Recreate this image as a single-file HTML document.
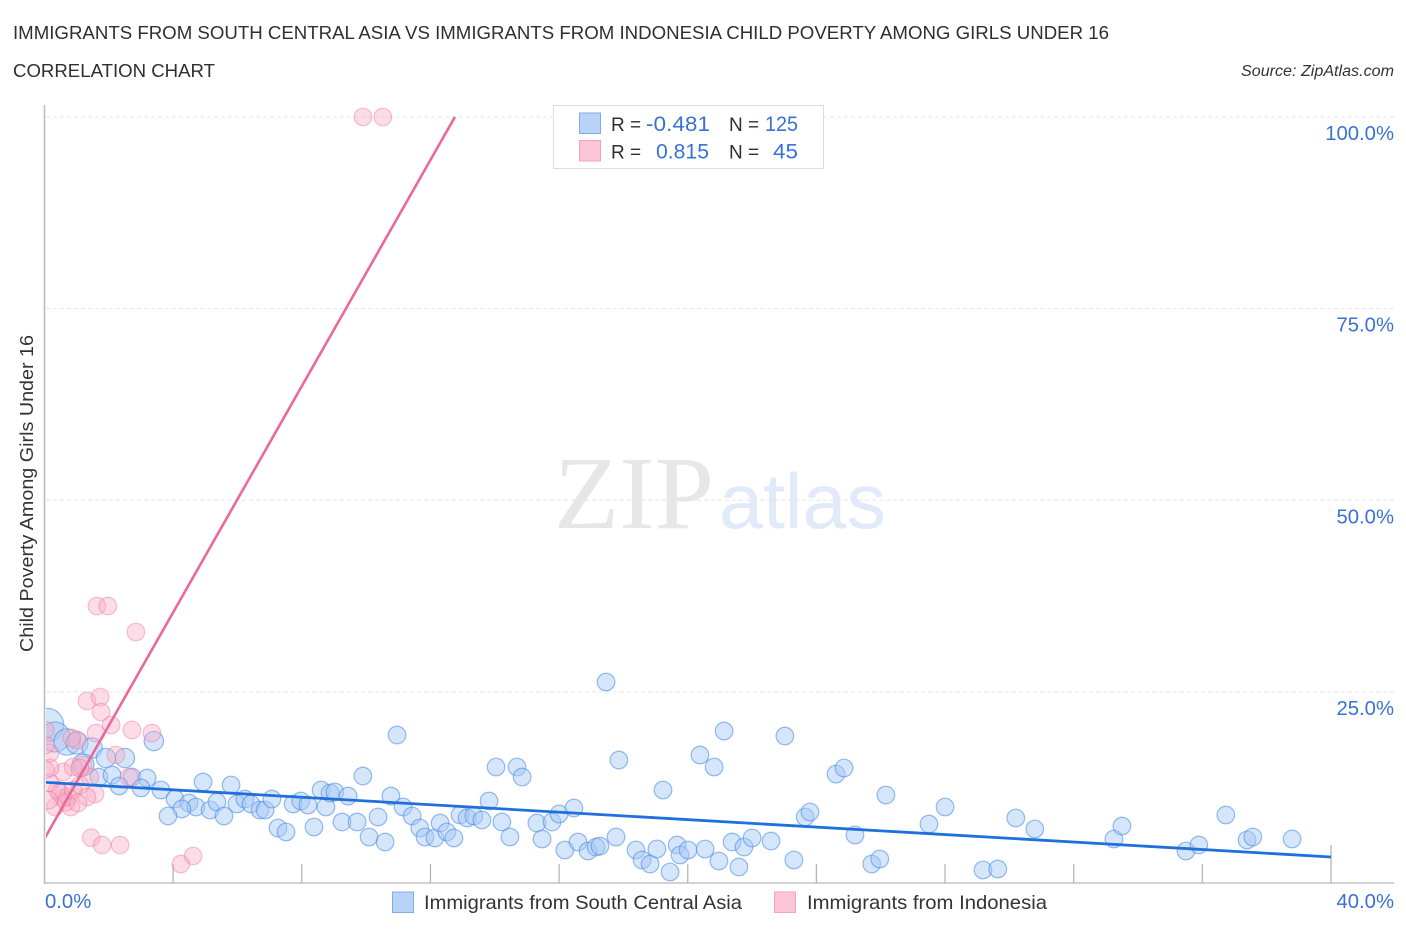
<!DOCTYPE html>
<html lang="en">
<head>
<meta charset="utf-8">
<title>Immigrants from South Central Asia vs Immigrants from Indonesia Child Poverty Among Girls Under 16</title>
<style>
html,body{margin:0;padding:0;background:#fff;}
body{width:1406px;height:930px;overflow:hidden;font-family:"Liberation Sans",sans-serif;}
svg{display:block;}
text{font-family:"Liberation Sans",sans-serif;}
</style>
</head>
<body>
<svg id="chart" xmlns="http://www.w3.org/2000/svg" width="1406" height="930" viewBox="0 0 1406 930">
  <defs><clipPath id="plot-clip"><rect x="46" y="100" width="1350" height="783"/></clipPath></defs>
  <text x="13" y="39" font-size="18.5" fill="#2f2f2f" textLength="1096" lengthAdjust="spacingAndGlyphs">IMMIGRANTS FROM SOUTH CENTRAL ASIA VS IMMIGRANTS FROM INDONESIA CHILD POVERTY AMONG GIRLS UNDER 16</text>
  <text x="13" y="77" font-size="18.5" fill="#2f2f2f" textLength="202" lengthAdjust="spacingAndGlyphs">CORRELATION CHART</text>
  <text x="1241" y="76" font-size="15.5" font-style="italic" fill="#333" textLength="153" lengthAdjust="spacingAndGlyphs">Source: ZipAtlas.com</text>

  <g>
    <text x="554" y="528" font-size="104" fill="#e7e7e7" textLength="160" lengthAdjust="spacingAndGlyphs" style="font-family:'Liberation Serif',serif">ZIP</text>
    <text x="719" y="528" font-size="78" fill="#e0eaf9" textLength="167" lengthAdjust="spacingAndGlyphs" style="font-family:'Liberation Sans',sans-serif">atlas</text>
  </g>

  <g id="grid"></g>
  <g id="axes"></g>
  <g id="marks" clip-path="url(#plot-clip)"></g>
  <g id="labels"></g>

  <text transform="translate(33,652) rotate(-90)" font-size="18" fill="#333" textLength="317" lengthAdjust="spacingAndGlyphs">Child Poverty Among Girls Under 16</text>

  <g>
    <rect x="553.5" y="105.5" width="270" height="63" fill="#fff" stroke="#dcdcdc" stroke-width="1"/>
    <rect x="579.5" y="113" width="21" height="20.5" fill="#b8d3f7" stroke="#7fabe8" stroke-width="1"/>
    <rect x="579.5" y="140.5" width="21" height="20.5" fill="#fcc6d8" stroke="#f2a3bd" stroke-width="1"/>
    <text x="611" y="131" font-size="19" fill="#2f2f2f">R =</text>
    <text x="646" y="131" font-size="21" fill="#3a72d4" textLength="64" lengthAdjust="spacingAndGlyphs">-0.481</text>
    <text x="729" y="131" font-size="19" fill="#2f2f2f">N =</text>
    <text x="765" y="131" font-size="21" fill="#3a72d4" textLength="33" lengthAdjust="spacingAndGlyphs">125</text>
    <text x="611" y="158.5" font-size="19" fill="#2f2f2f">R =</text>
    <text x="656" y="158.5" font-size="21" fill="#3a72d4" textLength="53" lengthAdjust="spacingAndGlyphs">0.815</text>
    <text x="729" y="158.5" font-size="19" fill="#2f2f2f">N =</text>
    <text x="773" y="158.5" font-size="21" fill="#3a72d4" textLength="25" lengthAdjust="spacingAndGlyphs">45</text>
  </g>

  <g>
    <rect x="392.5" y="892" width="21" height="20.5" fill="#b8d3f7" stroke="#7fabe8" stroke-width="1"/>
    <text x="424" y="909" font-size="19.5" fill="#333" textLength="318" lengthAdjust="spacingAndGlyphs">Immigrants from South Central Asia</text>
    <rect x="774.5" y="892" width="21" height="20.5" fill="#fcc6d8" stroke="#f2a3bd" stroke-width="1"/>
    <text x="807" y="909" font-size="19.5" fill="#333" textLength="240" lengthAdjust="spacingAndGlyphs">Immigrants from Indonesia</text>
  </g>
</svg>

<script>
// Data (x = % South Central Asia / Indonesia share, y = child poverty %)
const asiaX = [0.08,0.33,0.70,1.01,1.48,1.91,2.50,3.40,1.20,1.69,2.10,2.72,3.19,2.32,3.00,3.62,4.93,5.80,4.06,4.49,4.71,4.27,3.84,5.15,5.36,5.58,5.98,6.23,6.42,6.70,6.86,7.07,7.73,7.97,8.19,8.60,8.75,7.26,7.51,8.38,8.88,9.03,9.44,9.90,9.25,9.72,10.37,10.09,10.59,10.96,10.77,11.15,11.43,11.67,11.83,12.14,12.30,12.51,12.73,12.92,13.14,13.35,13.60,13.82,14.04,14.69,14.85,14.22,14.47,15.31,15.47,15.78,16.00,16.46,17.46,17.86,16.18,16.59,16.90,17.15,17.27,17.77,18.39,18.58,18.83,19.04,19.23,19.45,19.67,19.76,20.01,20.54,20.97,20.38,21.13,20.82,21.38,21.75,22.00,22.59,21.59,23.02,23.30,24.61,24.86,23.65,23.80,25.20,26.16,25.72,25.97,27.50,28.00,29.18,29.64,30.20,30.79,33.25,33.50,35.49,35.89,36.73,37.39,37.57,38.79];
const asiaY = [20.68,19.11,18.46,18.33,17.68,16.37,16.37,18.59,15.46,13.89,14.15,13.89,13.76,12.72,12.46,12.20,13.24,12.85,11.02,10.50,9.98,9.72,8.81,9.59,10.63,8.81,10.37,11.02,10.37,9.59,9.59,11.02,10.37,10.76,10.24,12.20,9.98,7.24,6.72,7.37,11.81,11.94,11.41,14.02,8.02,8.02,8.68,6.07,5.41,19.37,11.41,9.98,8.81,7.24,6.07,5.94,7.89,6.72,5.94,8.94,8.55,8.81,8.28,10.76,15.20,15.20,13.89,8.02,6.07,7.89,5.81,8.02,9.07,9.85,26.29,16.11,4.37,5.41,4.24,4.76,4.89,6.07,4.37,3.07,2.54,4.50,12.20,1.50,5.02,3.72,4.37,4.50,2.94,16.76,19.89,15.20,5.41,4.76,5.94,5.54,2.15,19.24,3.07,14.28,15.07,8.68,9.33,6.33,11.55,2.54,3.20,7.76,9.98,1.76,1.89,8.55,7.11,5.81,7.50,4.24,5.02,8.94,5.68,6.07,5.81];
// Relative population weight of the first points; every later point has weight 1
const asiaWeights = [1.9,1.7,1.5,1.25,1.15,1.1,1.1,1.1,1.25];

const indonesiaX = [1.32,1.73,1.76,2.07,1.60,2.72,3.34,1.01,2.22,0.17,0.02,2.63,1.20,0.58,0.17,0.89,1.41,1.10,1.57,1.32,0.33,0.82,0.58,0.39,0.17,0.73,0.48,0.67,0.89,1.04,0.14,0.02,1.10,1.45,1.79,2.35,4.24,4.62,1.63,1.97,2.84,9.90,10.52,0.02,0.85];
const indonesiaY = [23.81,24.33,22.37,20.68,19.63,20.03,19.63,18.72,16.76,17.03,18.07,13.89,15.46,14.55,15.07,15.20,13.89,12.85,11.68,11.28,9.98,9.98,11.15,12.20,13.11,11.28,11.81,10.63,12.20,10.50,10.89,14.81,15.07,5.97,5.02,5.02,2.54,3.59,36.20,36.20,32.81,100,100,20.03,18.98];

// Trend lines as [x, y] end values
const asiaTrendX = [0, 40];
const asiaTrendY = [13.2, 3.46];
const indonesiaTrendX = [0, 12.76];
const indonesiaTrendY = [5.86, 100];

const xTickValues = [0,4,8,12,16,20,24,28,32,36,40];
const yGridValues = [25,50,75,100];
const yTickLabels = ['25.0%','50.0%','75.0%','100.0%'];
const xEndLabels = ['0.0%','40.0%'];

const NS = 'http://www.w3.org/2000/svg';
function xScale(v){ return 44.5 + v * (1331 - 44.5) / 40; }
function yScale(v){ return 883.5 - v * (883.5 - 117) / 100; }
function make(tag, parent, attrs){
  const el = document.createElementNS(NS, tag);
  Object.keys(attrs).forEach(function(k){ el.setAttribute(k, attrs[k]); });
  parent.appendChild(el);
  return el;
}

const gridG = document.getElementById('grid');
const axesG = document.getElementById('axes');
const marksG = document.getElementById('marks');
const labelsG = document.getElementById('labels');

yGridValues.forEach(function(v){
  const line = make('line', gridG, {x1:46, x2:1394, y1:yScale(v), y2:yScale(v), stroke:'#e6e6e6', 'stroke-width':1, 'stroke-dasharray':'4 3'});
  
  
});

const yAxis = make('line', axesG, {x1:44.5, x2:44.5, y1:105, y2:884, stroke:'#bdbdbd', 'stroke-width':1.6});


const xAxis = make('line', axesG, {x1:44, x2:1394, y1:883, y2:883, stroke:'#c4c4c4', 'stroke-width':1.6});



xTickValues.forEach(function(v, i){
  if (i === 0) return;
  const top = i === xTickValues.length - 1 ? 845 : 864;
  const tick = make('line', axesG, {x1:xScale(v), x2:xScale(v), y1:top, y2:883, stroke:'#b5b5b5', 'stroke-width':1.3});
  
  
});

yGridValues.forEach(function(v, i){
  const t = make('text', labelsG, {x:1394, y:yScale(v) + 23, 'font-size':20.3, fill:'#3a72d4', 'text-anchor':'end'});
  t.textContent = yTickLabels[i];
  
  
});

const xLabelStart = make('text', labelsG, {x:45, y:908, 'font-size':20.3, fill:'#3a72d4'});
xLabelStart.textContent = xEndLabels[0];


const xLabelEnd = make('text', labelsG, {x:1394, y:908, 'font-size':20.3, fill:'#3a72d4', 'text-anchor':'end'});
xLabelEnd.textContent = xEndLabels[1];



const BASE_R = 8.8;
asiaX.forEach(function(v, i){
  const w = i < asiaWeights.length ? asiaWeights[i] : 1;
  const c = make('circle', marksG, {cx:xScale(v), cy:yScale(asiaY[i]), r:BASE_R * w, fill:'#a8c8f5', 'fill-opacity':0.48, stroke:'#3f86e6', 'stroke-opacity':0.55, 'stroke-width':1.2});
  
  
});
indonesiaX.forEach(function(v, i){
  const c = make('circle', marksG, {cx:xScale(v), cy:yScale(indonesiaY[i]), r:BASE_R, fill:'#f8a9c4', 'fill-opacity':0.4, stroke:'#ee6f9c', 'stroke-opacity':0.42, 'stroke-width':1.2});
  
  
});

const pinkTrend = make('line', marksG, {x1:xScale(indonesiaTrendX[0]), y1:yScale(indonesiaTrendY[0]), x2:xScale(indonesiaTrendX[1]), y2:yScale(indonesiaTrendY[1]), stroke:'#e9699a', 'stroke-width':2.6});


const blueTrend = make('line', marksG, {x1:xScale(asiaTrendX[0]), y1:yScale(asiaTrendY[0]), x2:xScale(asiaTrendX[1]), y2:yScale(asiaTrendY[1]), stroke:'#1f6fdc', 'stroke-width':2.8});


</script>
</body>
</html>
